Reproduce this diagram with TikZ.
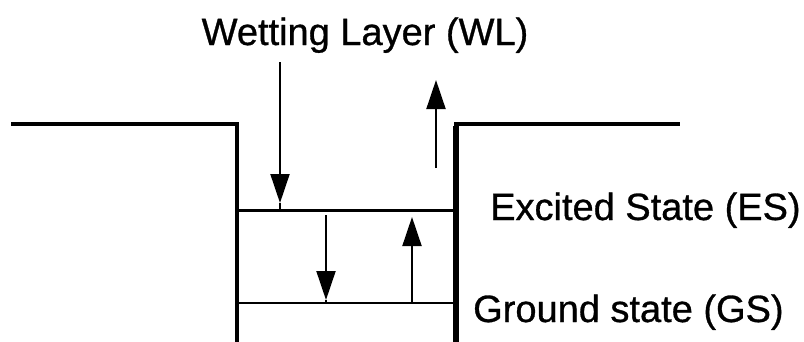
\documentclass[tikz,border=0pt]{standalone}
\usepackage{fontspec}
\setmainfont{Liberation Sans}
\usepackage{tikz}
\usetikzlibrary{arrows.meta,positioning}
\tikzset{
 levelname/.style={
 inner sep=0pt,
 font=\fontsize{38}{40}\selectfont\addfontfeature{FakeBold=0.8}
 },
 barrier/.style={line width=4pt, line cap=rect},
 leftwall/.style={line width=3.5pt},
 rightwall/.style={line width=6pt},
 level/.style={line width=2.5pt},
 shaft/.style={line width=2pt},
 transarrow/.style={-{Triangle[length=29pt,width=19pt]}, shaft}
}

\begin{document}
\begin{tikzpicture}[x=1pt,y=-1pt]
 \useasboundingbox (0,0) rectangle (804,341);
 % well outline
 \coordinate (lstart) at (13,123.5);
 \coordinate (lcorner) at (237,123.5);
 \coordinate (lbottom) at (237,343);
 \coordinate (rcorner) at (456,123.5);
 \coordinate (rbottom) at (456,343);
 \coordinate (rend) at (678,123.5);
 \draw[barrier] (lstart) -- (lcorner);
 \draw[barrier] (rcorner) -- (rend);
 \draw[leftwall] ([yshift=-2pt]lcorner) -- (lbottom);
 \draw[rightwall] ([yshift=-2pt]rcorner) -- (rbottom);
 % levels
 \coordinate (esleft) at (237,210.5);
 \coordinate (esright) at (456,210.5);
 \coordinate (gsleft) at (237,303);
 \coordinate (gsright) at (456,303);
 \draw[level] (esleft) -- (esright);
 \draw[level] (gsleft) -- (gsright);
 % labels
 \node[levelname, anchor=base] (wl) at (365,45) {Wetting Layer (WL)};
 \node[levelname, anchor=base west] (es) at (490,220) {Excited State (ES)};
 \node[levelname, anchor=base west] (gs) at (473,322) {Ground state (GS)};
 % transitions
 \coordinate (capstart) at (280,62);
 \coordinate (capend) at (280,203);
 \coordinate (escstart) at (436,168);
 \coordinate (escend) at (436,80);
 \coordinate (relstart) at (326,215);
 \coordinate (relend) at (326,300);
 \coordinate (excstart) at (412,302);
 \coordinate (excend) at (412,217);
 \draw[transarrow] (capstart) -- (capend);
 \draw[shaft] (capend) -- (capend |- esleft);
 \draw[transarrow] (escstart) -- (escend);
 \draw[transarrow] (relstart) -- (relend);
 \draw[shaft] (relend) -- (relend |- gsleft);
 \draw[transarrow] (excstart) -- (excend);
\end{tikzpicture}
\end{document}
